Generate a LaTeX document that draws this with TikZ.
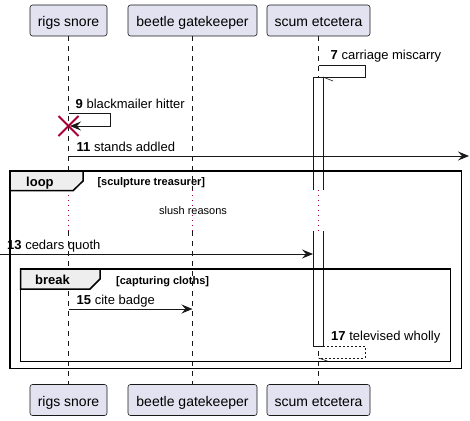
\documentclass[tikz,border=0pt]{standalone}
\usepackage{fontspec}
\setmainfont{Liberation Sans}
\usetikzlibrary{arrows.meta,calc}
\definecolor{pbox}{HTML}{E2E2F0}
\definecolor{pline}{HTML}{181818}
\definecolor{delayc}{HTML}{A80036}
\definecolor{tabc}{HTML}{EEEEEE}
\begin{document}
\begin{tikzpicture}[x=1pt,y=-1pt,
  part/.style={draw=pline, fill=pbox, rounded corners=2.5pt, line width=0.6pt,
    minimum height=31pt, inner sep=0pt, text height=14.4pt, text depth=2pt,
    font=\fontsize{14}{16}\selectfont},
  life/.style={draw=pline, line width=0.6pt, dash pattern=on 5pt off 5pt},
  delayline/.style={draw=delayc, line width=0.8pt, dash pattern=on 1pt off 4pt},
  msg/.style={draw=pline, line width=0.9pt},
  arr/.style={msg, -{Stealth[length=11pt, width=9pt, inset=4pt]}},
  lbl/.style={anchor=base west, inner sep=0pt, font=\fontsize{13}{15}\selectfont},
  act/.style={draw=pline, line width=0.9pt},
  frm/.style={draw=black, line width=1.5pt},
  tab/.style={draw=black, line width=1.5pt, fill=tabc},
  ttl/.style={anchor=base west, inner sep=0pt, font=\fontsize{13}{15}\selectfont\bfseries},
  cond/.style={anchor=base west, inner sep=0pt, font=\fontsize{11}{13}\selectfont\bfseries}
]
\useasboundingbox (0,0) rectangle (470,420);
\fill[white] (0,0) rectangle (470,420);

% participants
\node[part, minimum width=77pt]  (rt) at (68.5,20.5)  {rigs snore};
\node[part, minimum width=129pt] (bt) at (192.5,20.5) {beetle gatekeeper};
\node[part, minimum width=103pt] (st) at (318.5,20.5) {scum etcetera};
\node[part, minimum width=77pt]  (rb) at (68.5,400)   {rigs snore};
\node[part, minimum width=129pt] (bb) at (192.5,400)  {beetle gatekeeper};
\node[part, minimum width=103pt] (sb) at (318.5,400)  {scum etcetera};

% delay coordinates
\coordinate (rd1) at (68.5,190);  \coordinate (rd2) at (68.5,231);
\coordinate (bd1) at (192.5,190); \coordinate (bd2) at (192.5,231);
\coordinate (sd1) at (318.5,190); \coordinate (sd2) at (318.5,231);

% lifelines
\draw[life] (rt.south) -- (rd1);
\draw[life] (rd2) -- (rb.north);
\draw[life] (bt.south) -- (bd1);
\draw[life] (bd2) -- (bb.north);
\draw[life] (st.south) -- (sd1);
\draw[life] (sd2) -- (sb.north);
\draw[delayline] (rd1) -- (rd2);
\draw[delayline] (bd1) -- (bd2);

% activation box
\fill[white] (313,77) rectangle (323,190);
\fill[white] (313,231) rectangle (323,346);
\draw[act] (313,190) -- (313,77) -- (323,77) -- (323,190);
\draw[act] (313,231) -- (313,346) -- (323,346) -- (323,231);
\draw[delayline] (sd1) -- (sd2);

% message 7
\coordinate (m7a) at (318.5,65);
\coordinate (m7b) at (323,77);
\draw[msg] (m7a) -- (365,65) -- (365,77) -- (m7b);
\draw[msg, line width=0.6pt] (m7b) -- ++(10,4);
\node[lbl] (l7) at (330.5,59.8) {\textbf{7} carriage miscarry};

% message 9 (self, destroy)
\coordinate (m9a) at (68.5,113);
\coordinate (m9b) at (70,126);
\draw[arr] (m9a) -- (110,113) -- (110,126) -- (m9b);
\node[lbl] (l9) at (75.5,108.3) {\textbf{9} blackmailer hitter};
\coordinate (xx) at (68.5,126);
\draw[delayc, line width=2pt] ($(xx)+(-10,-10)$) -- ($(xx)+(10,10)$);
\draw[delayc, line width=2pt] ($(xx)+(-10,10)$) -- ($(xx)+(10,-10)$);

% message 11
\coordinate (m11a) at (68.5,156);
\coordinate (m11b) at (469,156);
\draw[arr] (m11a) -- (m11b);
\node[lbl] (l11) at (76.5,151.5) {\textbf{11} stands addled};

% delay text
\node[anchor=base, inner sep=0pt, font=\fontsize{11}{13}\selectfont] (dl) at (193,214.3) {slush reasons};

% message 13
\coordinate (m13a) at (0,254);
\coordinate (m13b) at (313,254);
\draw[arr] (m13a) -- (m13b);
\node[lbl] (l13) at (7,249.3) {\textbf{13} cedars quoth};

% message 15
\coordinate (m15a) at (68.5,309);
\coordinate (m15b) at (192.5,309);
\draw[arr] (m15a) -- (m15b);
\node[lbl] (l15) at (76.5,304.5) {\textbf{15} cite badge};

% message 17 (return, dashed)
\coordinate (m17a) at (323,346);
\coordinate (m17b) at (318.5,358);
\draw[msg, line width=0.7pt, dash pattern=on 2pt off 2pt] (m17a) -- (365,346) -- (365,358) -- (m17b);
\draw[msg, line width=0.6pt] (m17b) -- ++(10,3.5);
\node[lbl] (l17) at (331,340.7) {\textbf{17} televised wholly};

% loop frame
\draw[frm] (10,171) rectangle (461.5,368.5);
\draw[tab] (10,171) -- (83,171) -- (83,181) -- (73,190.7) -- (10,190.7) -- cycle;
\node[ttl] (tl) at (26,186) {loop};
\node[cond] (tc) at (97.3,185.5) {[sculpture treasurer]};

% break frame
\draw[frm] (20.7,269) rectangle (450.7,361.3);
\draw[tab] (20.7,269) -- (100,269) -- (100,279) -- (90,289) -- (20.7,289) -- cycle;
\node[ttl] (bl) at (35,284) {break};
\node[cond] (bc) at (116,284) {[capturing cloths]};
\end{tikzpicture}
\end{document}
